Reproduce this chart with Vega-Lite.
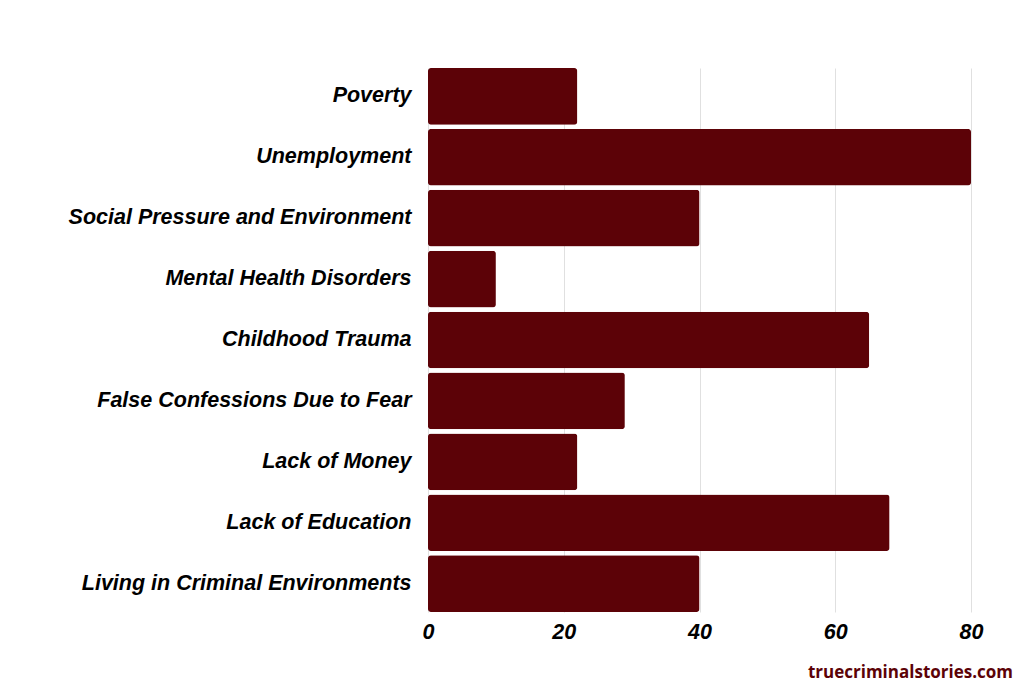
{
  "$schema": "https://vega.github.io/schema/vega-lite/v6.json",
  "width": 543,
  "height": 544,
  "autosize": {"type": "none"},
  "padding": {"left": 428, "top": 68, "right": 53, "bottom": 71},
  "background": "white",
  "data": {"values": [
    {"cause": "Poverty", "value": 22},
    {"cause": "Unemployment", "value": 80},
    {"cause": "Social Pressure and Environment", "value": 40},
    {"cause": "Mental Health Disorders", "value": 10},
    {"cause": "Childhood Trauma", "value": 65},
    {"cause": "False Confessions Due to Fear", "value": 29},
    {"cause": "Lack of Money", "value": 22},
    {"cause": "Lack of Education", "value": 68},
    {"cause": "Living in Criminal Environments", "value": 40}
  ]},
  "title": {
    "text": "truecriminalstories.com",
    "orient": "bottom",
    "anchor": "end",
    "frame": "group",
    "dx": 42,
    "offset": 22,
    "font": "Open Sans",
    "fontSize": 17,
    "fontWeight": "bold",
    "color": "#5c0207"
  },
  "mark": {"type": "bar", "color": "#5c0207", "cornerRadius": 3},
  "encoding": {
    "y": {
      "field": "cause",
      "type": "nominal",
      "sort": null,
      "scale": {"paddingInner": 0.07, "paddingOuter": 0},
      "axis": {
        "title": null,
        "domain": false,
        "ticks": false,
        "labelPadding": 17,
        "labelFont": "Liberation Sans",
        "labelFontSize": 21.5,
        "labelFontWeight": "bold",
        "labelFontStyle": "italic",
        "labelColor": "#000000",
        "labelLimit": 400
      }
    },
    "x": {
      "field": "value",
      "type": "quantitative",
      "scale": {"domain": [0, 80], "nice": false},
      "axis": {
        "title": null,
        "values": [0, 20, 40, 60, 80],
        "domain": false,
        "ticks": false,
        "grid": true,
        "gridColor": "#e0e0e0",
        "gridWidth": 1,
        "labelFlush": false,
        "labelPadding": 9,
        "labelFont": "Liberation Sans",
        "labelFontSize": 21.5,
        "labelFontWeight": "bold",
        "labelFontStyle": "italic",
        "labelColor": "#000000"
      }
    }
  },
  "config": {"view": {"stroke": null}}
}
